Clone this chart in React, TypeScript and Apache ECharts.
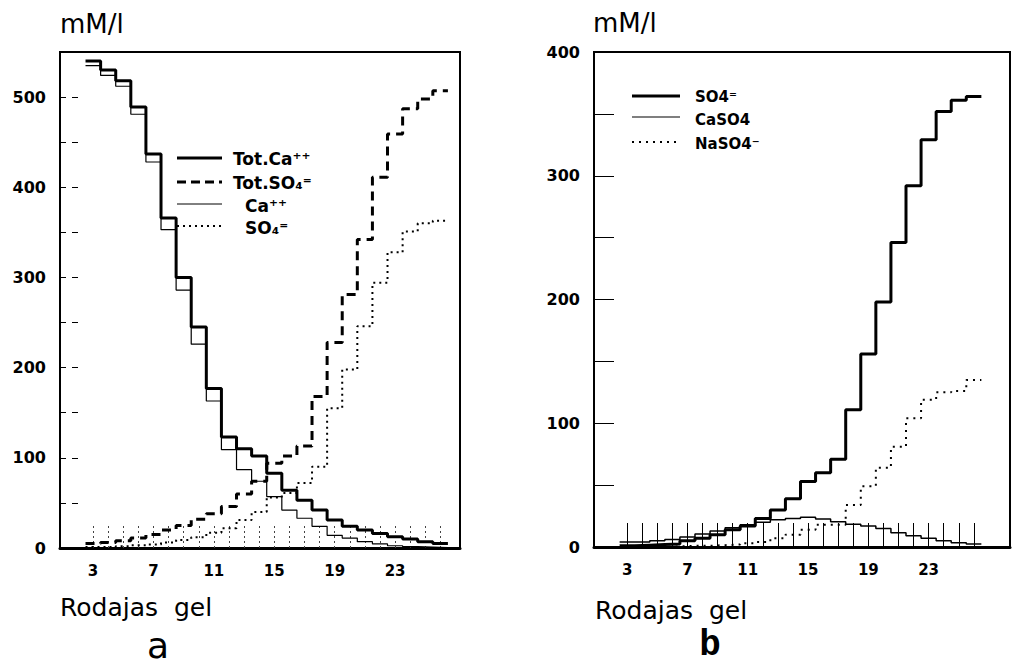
import React, { useEffect, useRef } from "react";
import * as echarts from "echarts";

// gel slices (x), one bin per slice
const slices = [3, 4, 5, 6, 7, 8, 9, 10, 11, 12, 13, 14, 15, 16, 17, 18, 19, 20, 21, 22, 23, 24, 25, 26];
const xTickLabels = [3, 7, 11, 15, 19, 23];

// panel a (mM/l)
const yLabelsA = [0, 100, 200, 300, 400, 500];
const yTicksA = [50, 100, 150, 200, 250, 300, 350, 400, 450, 500];
const totCa = [540, 530, 518, 489, 437, 366, 300, 245, 177, 123, 110, 102, 83, 64, 53, 42, 31, 24, 20, 16, 12.6, 10, 7, 5];
const totSO4 = [5, 6, 8, 11, 15, 20, 25, 32, 38, 46, 60, 74, 94, 102, 113, 168, 228, 281, 342, 411, 459, 487, 498, 507];
const caIon = [535, 524, 512, 481, 428, 353, 286, 226, 163, 109, 87, 74, 57, 42, 33, 24, 14, 11, 7, 4.5, 2.5, 1.5, 1, 0.5];
const so4Ion = [1, 1, 2, 3, 4, 6, 9, 12, 17, 22, 31, 40, 56, 61, 72, 90, 155, 198, 246, 294, 328, 351, 360, 363];

// panel b (mM/l)
const yLabelsB = [0, 100, 200, 300, 400];
const yTicksB = [50, 100, 150, 200, 250, 300, 350];
const so4B = [1, 1.5, 2, 2.5, 5, 7, 10, 14, 17, 23, 30, 39, 53, 60, 71, 111, 156, 198, 246, 292, 329, 352, 361, 364];
const caSO4 = [4, 4, 5, 6, 8, 10.5, 13, 15.5, 18, 20, 22, 23, 24, 22.6, 20.5, 18.3, 17, 15, 11.5, 9, 7, 5, 3.5, 2.5];
const naSO4 = [0, 0, 0, 0.5, 1, 1, 1.5, 2, 3, 4, 7, 10, 14, 18, 18, 34, 49, 64, 81, 104, 119, 125, 126, 135];

const steps = (vals: number[]) =>
  slices.flatMap((s, i) => [
    [s - 0.5, vals[i]],
    [s + 0.5, vals[i]],
  ]);

const FONT = '"DejaVu Sans", sans-serif';

function txt(text: string, x: number, y: number, font: string, align = "left", vAlign = "middle") {
  return {
    type: "text",
    x,
    y,
    silent: true,
    style: {
      text,
      font,
      fill: "#000",
      align,
      verticalAlign: vAlign,
      textAlign: align,
      textVerticalAlign: vAlign,
    },
  };
}

function seg(x1: number, y1: number, x2: number, y2: number, width: number, type: any = "solid") {
  return {
    type: "line",
    silent: true,
    shape: { x1, y1, x2, y2 },
    style: { stroke: "#000", lineWidth: width, lineDash: type === "solid" ? null : type },
  };
}

function lineSeries(name: string, vals: number[], axis: number, width: number, type: any = "solid") {
  return {
    name,
    type: "line",
    xAxisIndex: axis,
    yAxisIndex: axis,
    data: steps(vals),
    showSymbol: false,
    symbol: "none",
    lineStyle: { color: "#000", width, type, cap: "butt" },
    z: 3,
  };
}

export default function App() {
  const ref = useRef<HTMLDivElement>(null);
  useEffect(() => {
    if (!ref.current) return;
    const chart = echarts.init(ref.current, null, { renderer: "svg" });
    const xAxisBase = (min: number, max: number, grid: number, tickType: any, tickColor: string) => ({
      type: "value",
      gridIndex: grid,
      min,
      max,
      axisLine: { show: true, onZero: false, lineStyle: { color: "#000", width: 3 } },
      axisTick: {
        show: true,
        inside: true,
        length: 24,
        customValues: slices,
        lineStyle: { color: tickColor, width: 1, type: tickType },
      },
      axisLabel: {
        customValues: xTickLabels,
        color: "#000",
        fontFamily: FONT,
        fontWeight: "bold",
        fontSize: 15,
        margin: 15,
      },
      splitLine: { show: false },
    });
    const yAxisBase = (max: number, grid: number, labels: number[], ticks: number[], tickType: any) => ({
      type: "value",
      gridIndex: grid,
      min: 0,
      max,
      axisLine: { show: true, lineStyle: { color: "#000", width: 2 } },
      axisTick: {
        show: true,
        inside: true,
        length: 20,
        customValues: ticks,
        lineStyle: { color: "#000", width: 1, type: tickType },
      },
      axisLabel: {
        customValues: labels,
        color: "#000",
        fontFamily: FONT,
        fontWeight: "bold",
        fontSize: 16,
        margin: 14,
      },
      splitLine: { show: false },
    });

    chart.setOption({
      animation: false,
      backgroundColor: "#fff",
      grid: [
        { left: 60, top: 52, width: 400, height: 496, show: true, borderColor: "#000", borderWidth: 2 },
        { left: 594, top: 52, width: 416, height: 495, show: true, borderColor: "#000", borderWidth: 2 },
      ],
      xAxis: [xAxisBase(0.81, 27.3, 0, [2, 3], "#444"), xAxisBase(0.8, 28.4, 1, "solid", "#000")],
      yAxis: [yAxisBase(550, 0, yLabelsA, yTicksA, [6, 6]), yAxisBase(400, 1, yLabelsB, yTicksB, "solid")],
      series: [
        lineSeries("Tot.Ca⁺⁺", totCa, 0, 3),
        lineSeries("Tot.SO₄⁼", totSO4, 0, 3, [9, 6]),
        lineSeries("Ca⁺⁺", caIon, 0, 1.2),
        lineSeries("SO₄⁼", so4Ion, 0, 2, [2, 4]),
        lineSeries("SO4⁼", so4B, 1, 3),
        lineSeries("CaSO4", caSO4, 1, 1.5),
        lineSeries("NaSO4⁻", naSO4, 1, 2, [2, 5]),
      ],
      graphic: [
        txt("mM/l", 60, 24, `26px ${FONT}`),
        txt("mM/l", 593, 23, `26px ${FONT}`),
        txt("Rodajas  gel", 60, 607, `25px ${FONT}`),
        txt("Rodajas  gel", 595, 610, `25px ${FONT}`),
        txt("a", 158, 663, `36px ${FONT}`, "center", "bottom"),
        txt("b", 710, 663, `bold 36px "Liberation Mono", monospace`, "center", "bottom"),
        // legend a
        seg(177, 158, 222, 158, 3),
        txt("Tot.Ca⁺⁺", 233, 159, `bold 17px ${FONT}`),
        seg(177, 182, 222, 182, 3, [9, 5]),
        txt("Tot.SO₄⁼", 233, 183, `bold 17px ${FONT}`),
        seg(177, 204, 222, 204, 1),
        txt("Ca⁺⁺", 245, 206, `bold 17px ${FONT}`),
        seg(177, 226, 222, 226, 2, [2, 4]),
        txt("SO₄⁼", 245, 228, `bold 17px ${FONT}`),
        // legend b
        seg(632, 96, 680, 96, 3),
        txt("SO4⁼", 695, 97, `bold 15px ${FONT}`),
        seg(632, 117, 680, 117, 1.2),
        txt("CaSO4", 695, 120, `bold 15px ${FONT}`),
        seg(632, 142, 680, 142, 2, [2, 5]),
        txt("NaSO4⁻", 695, 144, `bold 15px ${FONT}`),
      ],
    });
    return () => chart.dispose();
  }, []);
  return <div ref={ref} style={{ position: "fixed", left: 0, top: 0, width: 1015, height: 666, background: "#fff" }} />;
}
